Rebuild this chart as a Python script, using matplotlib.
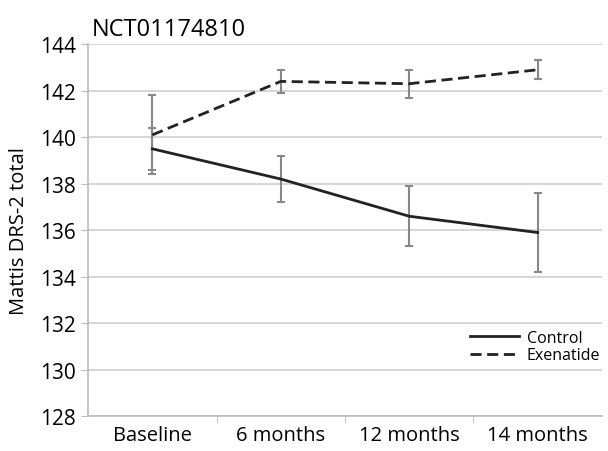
import matplotlib
matplotlib.use("Agg")
import matplotlib.pyplot as plt

categories = ["Baseline", "6 months", "12 months", "14 months"]
control = [139.5, 138.2, 136.6, 135.9]
control_err = [0.9, 1.0, 1.3, 1.7]
exenatide = [140.1, 142.4, 142.3, 142.9]
exenatide_err = [1.7, 0.5, 0.6, 0.4]

plt.rcParams["font.family"] = ["Open Sans", "DejaVu Sans"]

fig = plt.figure(figsize=(6.08, 4.52), dpi=100)
ax = fig.add_axes([0.145, 0.077, 0.845, 0.823])

x = list(range(len(categories)))
ax.errorbar(x, control, yerr=control_err, color="#222222", lw=2, ecolor="#888888",
            elinewidth=1.5, capsize=3, capthick=1.5, label="Control", zorder=3)
ax.errorbar(x, exenatide, yerr=exenatide_err, color="#222222", lw=2, ls=(0, (4, 2)),
            ecolor="#888888", elinewidth=1.5, capsize=3, capthick=1.5,
            label="Exenatide", zorder=3)

ax.set_xlim(-0.5, len(categories) - 0.5)
ax.set_ylim(128, 144)
ax.set_yticks(range(128, 145, 2))
ax.set_xticks(x)
ax.set_xticklabels(categories, fontsize=14.5)
ax.set_xticks([i + 0.5 for i in x[:-1]], minor=True)
ax.tick_params(axis="x", which="major", length=0, pad=6)
ax.tick_params(axis="x", which="minor", length=5, color="#bbbbbb")
ax.tick_params(axis="y", labelsize=15, length=5, color="#bbbbbb", pad=4)
ax.yaxis.grid(True, color="#d0d0d0", lw=1.2)
ax.set_axisbelow(True)
for side in ["top", "right"]:
    ax.spines[side].set_visible(False)
ax.spines["left"].set_color("#bbbbbb")
ax.spines["bottom"].set_color("#bbbbbb")
ax.spines["left"].set_linewidth(1.2)
ax.spines["bottom"].set_linewidth(1.2)

ax.set_ylabel("Mattis DRS-2 total", fontsize=14.5, labelpad=8)
fig.text(92 / 608, 1 - 30 / 452, "NCT01174810", fontsize=17, ha="left", va="center")

handles, labels = ax.get_legend_handles_labels()
handles = [h[0] for h in handles]
ax.legend(handles, labels, loc="upper left", bbox_to_anchor=(0.743, 0.232), frameon=False,
          fontsize=11.5, handlelength=3.1, handletextpad=0.45, labelspacing=0.1,
          borderaxespad=0, borderpad=0)

fig.savefig("out.png", dpi=100)
